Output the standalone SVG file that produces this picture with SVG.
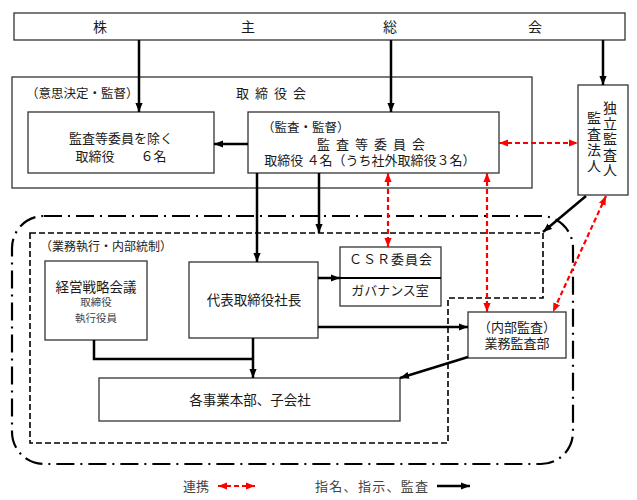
<svg xmlns="http://www.w3.org/2000/svg" width="637" height="500" viewBox="0 0 637 500">
<style>
text{font-family:"Liberation Serif","Noto Sans CJK JP",serif;fill:#1a1a1a;}
.box{fill:#fff;stroke:#333;stroke-width:1.3;}
.frame{fill:none;stroke:#333;stroke-width:1.3;}
.blk{fill:none;stroke:#000;stroke-width:2.5;}
.red{fill:none;stroke:#f00;stroke-width:2.2;stroke-dasharray:5,3;}
.t13{font-size:13px;text-anchor:middle;}
.t14{font-size:14px;text-anchor:middle;}
.sm{font-size:10.5px;text-anchor:middle;fill:#444;}
.lg{font-size:13px;fill:#444;}
</style>
<defs>
<marker id="ab" viewBox="0 0 10 8" markerUnits="userSpaceOnUse" markerWidth="9" markerHeight="8" refX="10" refY="4" orient="auto-start-reverse"><path d="M0,0L10,4L0,8z" fill="#000"/></marker>
<marker id="ar" viewBox="0 0 10 8" markerUnits="userSpaceOnUse" markerWidth="9" markerHeight="8" refX="10" refY="4" orient="auto-start-reverse"><path d="M0,0L10,4L0,8z" fill="#f00"/></marker>
</defs>

<g id="outer-frames">
<rect x="12" y="216" width="561" height="248" rx="32" ry="32" fill="none" stroke="#000" stroke-width="2.2" stroke-dasharray="18,6,2,6"/>
<path d="M30,233H543V298H448V443H30Z" fill="none" stroke="#000" stroke-width="1.6" stroke-dasharray="6,3"/>
<text x="40" y="251" style="font-size:12px">（業務執行・内部統制）</text>
</g>

<g id="shareholders">
<rect class="box" x="14" y="13" width="611" height="27"/>
<text class="t14" x="100" y="32">株</text>
<text class="t14" x="248" y="32">主</text>
<text class="t14" x="390" y="32">総</text>
<text class="t14" x="535" y="32">会</text>
</g>

<g id="board">
<rect class="frame" x="12" y="77" width="520" height="111"/>
<text x="26" y="98" style="font-size:12.5px">（意思決定・監督）</text>
<text x="236" y="98" style="font-size:13px;letter-spacing:6px">取締役会</text>
</g>

<g id="directors">
<rect class="box" x="28" y="112" width="186" height="61"/>
<text class="t13" x="121" y="143">監査等委員を除く</text>
<text class="t13" x="121" y="161" xml:space="preserve">取締役　　６名</text>
</g>

<g id="audit-committee">
<rect class="box" x="248" y="112" width="251" height="61"/>
<text x="262" y="132" style="font-size:12.5px">（監査・監督）</text>
<text class="t13" x="374" y="149" style="letter-spacing:6px">監査等委員会</text>
<text class="t13" x="370" y="165">取締役 ４名（うち社外取締役３名）</text>
</g>

<g id="auditor">
<rect class="box" x="578" y="85" width="50" height="110"/>
<text class="t14" x="610" y="113"><tspan x="610" y="113">独</tspan><tspan x="610" y="128.5">立</tspan><tspan x="610" y="144">監</tspan><tspan x="610" y="159.5">査</tspan><tspan x="610" y="175">人</tspan></text>
<text class="t14" x="594" y="123"><tspan x="594" y="123">監</tspan><tspan x="594" y="139">査</tspan><tspan x="594" y="155">法</tspan><tspan x="594" y="171">人</tspan></text>
</g>

<g id="strategy">
<rect class="box" x="45" y="261" width="102" height="79"/>
<text class="t14" x="96" y="292" style="font-size:13.5px">経営戦略会議</text>
<text class="sm" x="96" y="306">取締役</text>
<text class="sm" x="96" y="322">執行役員</text>
</g>

<g id="president">
<rect class="box" x="189" y="262" width="129" height="76"/>
<text class="t13" x="254" y="305" style="font-size:13.5px">代表取締役社長</text>
</g>

<g id="csr">
<rect class="box" x="340" y="247" width="101" height="59"/>
<line x1="340" y1="278" x2="441" y2="278" stroke="#000" stroke-width="2"/>
<text class="t13" x="391" y="264" style="letter-spacing:1px">ＣＳＲ委員会</text>
<text class="t13" x="390" y="295">ガバナンス室</text>
</g>

<g id="internal-audit">
<rect class="box" x="468" y="312" width="98" height="46"/>
<text class="t13" x="517" y="332">（内部監査）</text>
<text class="t13" x="517" y="348">業務監査部</text>
</g>

<g id="business">
<rect class="box" x="99" y="378" width="301" height="43"/>
<text class="t13" x="250" y="405" style="font-size:13.5px">各事業本部、子会社</text>
</g>

<g id="connectors">
<line class="blk" x1="139" y1="40" x2="139" y2="112" marker-end="url(#ab)"/>
<line class="blk" x1="391" y1="40" x2="391" y2="112" marker-end="url(#ab)"/>
<line class="blk" x1="603" y1="40" x2="603" y2="85" marker-end="url(#ab)"/>
<line class="blk" x1="248" y1="144" x2="214" y2="144" marker-end="url(#ab)"/>
<line class="blk" x1="257" y1="173" x2="257" y2="262" marker-end="url(#ab)"/>
<line class="blk" x1="319" y1="173" x2="319" y2="233" marker-end="url(#ab)"/>
<line class="blk" x1="318" y1="278" x2="340" y2="278" marker-end="url(#ab)"/>
<line class="blk" x1="318" y1="327" x2="468" y2="327" marker-end="url(#ab)"/>
<polyline class="blk" points="94,340 94,359 253,359"/>
<line class="blk" x1="253" y1="338" x2="253" y2="378" marker-end="url(#ab)"/>
<line class="blk" x1="468" y1="357" x2="400" y2="378" marker-end="url(#ab)"/>
<line class="blk" x1="586" y1="196" x2="543" y2="232" marker-end="url(#ab)"/>
<line class="red" x1="499" y1="143" x2="578" y2="143" marker-start="url(#ar)" marker-end="url(#ar)"/>
<line class="red" x1="388" y1="173" x2="388" y2="247" marker-start="url(#ar)" marker-end="url(#ar)"/>
<line class="red" x1="487" y1="173" x2="487" y2="312" marker-start="url(#ar)" marker-end="url(#ar)"/>
<line class="red" x1="606" y1="196" x2="553" y2="312" marker-start="url(#ar)" marker-end="url(#ar)"/>
</g>

<g id="legend">
<text class="lg" x="183" y="491">連携</text>
<line class="red" x1="218" y1="486" x2="255" y2="486" stroke-width="2" marker-start="url(#ar)" marker-end="url(#ar)"/>
<text class="lg" x="315" y="491" style="letter-spacing:1.3px">指名、指示、監査</text>
<line class="blk" x1="437" y1="486" x2="470" y2="486" marker-end="url(#ab)"/>
</g>
</svg>
